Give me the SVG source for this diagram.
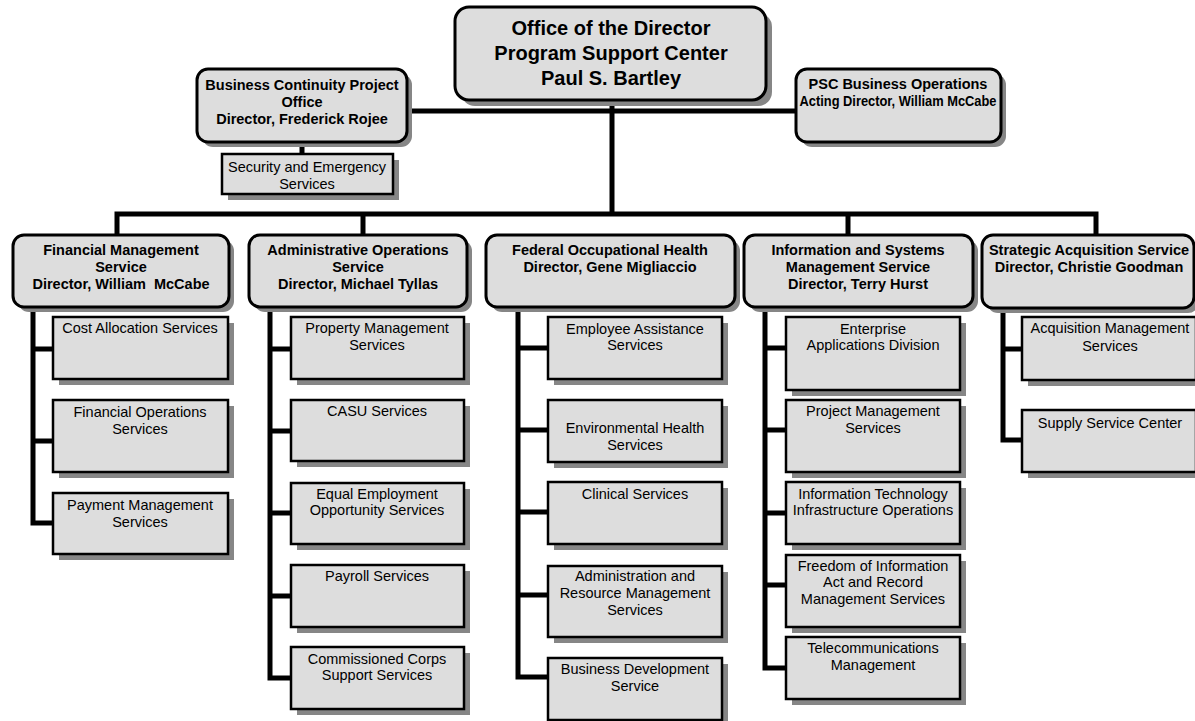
<svg xmlns="http://www.w3.org/2000/svg" width="1195" height="721" viewBox="0 0 1195 721">
<style>
text{font-family:"Liberation Sans",Arial,Helvetica,sans-serif;fill:#000;text-anchor:middle}
.b{font-weight:bold;font-size:14.5px}
.t{font-weight:bold;font-size:20px}
.r{font-size:14.5px}
.sh{fill:#868686}
.box{fill:#dddddd;stroke:#000;stroke-width:3}
.sub{fill:#dddddd;stroke:#000;stroke-width:2.5}
.ln{fill:none;stroke:#000;stroke-width:5;stroke-linejoin:miter;stroke-linecap:square}
</style>
<rect width="1195" height="721" fill="#fff"/>
<g id="connectors">
<path class="ln" d="M612 100V214M407 111H796M117 235V214H1096V235M363 214V235M848 214V235M302 142V154"/>
<path class="ln" d="M33 307V523H53M33 349H53M33 441H53"/>
<path class="ln" d="M270 307V678H291M270 349H291M270 431H291M270 513H291M270 596H291"/>
<path class="ln" d="M518 307V677H548M518 348H548M518 430H548M518 512H548M518 595H548"/>
<path class="ln" d="M765 307V668H786M765 348H786M765 430H786M765 513H786M765 585H786"/>
<path class="ln" d="M1003 308V440H1022M1003 349H1022"/>
</g>
<g id="office">
<rect class="sh" x="461" y="13" width="311" height="93" rx="14"/>
<rect class="box" x="455" y="7" width="311" height="93" rx="14"/>
<text class="t" x="611" y="35">Office of the Director</text>
<text class="t" x="611" y="60">Program Support Center</text>
<text class="t" x="611" y="85">Paul S. Bartley</text>
</g>
<g id="bcpo">
<rect class="sh" x="202" y="74" width="210" height="73" rx="11"/>
<rect class="box" x="197" y="69" width="210" height="73" rx="11"/>
<text class="b" x="302" y="90">Business Continuity Project</text>
<text class="b" x="302" y="107">Office</text>
<text class="b" x="302" y="124">Director, Frederick Rojee</text>
</g>
<g id="security">
<rect class="sh" x="228" y="160" width="171" height="40"/>
<rect class="sub" x="222" y="154" width="171" height="40"/>
<text class="r" x="307" y="172">Security and Emergency</text>
<text class="r" x="307" y="189">Services</text>
</g>
<g id="psc">
<rect class="sh" x="801" y="74" width="205" height="73" rx="11"/>
<rect class="box" x="796" y="69" width="205" height="73" rx="11"/>
<text class="b" x="898" y="89">PSC Business Operations</text>
<text class="b" x="898" y="106" textLength="197" lengthAdjust="spacingAndGlyphs">Acting Director, William McCabe</text>
</g>
<g id="fms">
<rect class="sh" x="18" y="240" width="216" height="72" rx="11"/>
<rect class="box" x="13" y="235" width="216" height="72" rx="11"/>
<text class="b" x="121" y="255">Financial Management</text>
<text class="b" x="121" y="272">Service</text>
<text class="b" x="121" y="289" xml:space="preserve">Director, William  McCabe</text>
</g>
<g id="aos">
<rect class="sh" x="254" y="240" width="218" height="72" rx="11"/>
<rect class="box" x="249" y="235" width="218" height="72" rx="11"/>
<text class="b" x="358" y="255">Administrative Operations</text>
<text class="b" x="358" y="272">Service</text>
<text class="b" x="358" y="289">Director, Michael Tyllas</text>
</g>
<g id="foh">
<rect class="sh" x="491" y="240" width="249" height="72" rx="11"/>
<rect class="box" x="486" y="235" width="249" height="72" rx="11"/>
<text class="b" x="610" y="255">Federal Occupational Health</text>
<text class="b" x="610" y="272">Director, Gene Migliaccio</text>
</g>
<g id="isms">
<rect class="sh" x="749" y="240" width="229" height="72" rx="11"/>
<rect class="box" x="744" y="235" width="229" height="72" rx="11"/>
<text class="b" x="858" y="255">Information and Systems</text>
<text class="b" x="858" y="272">Management Service</text>
<text class="b" x="858" y="289">Director, Terry Hurst</text>
</g>
<g id="sas">
<rect class="sh" x="987" y="240" width="212" height="73" rx="11"/>
<rect class="box" x="982" y="235" width="212" height="73" rx="11"/>
<text class="b" x="1089" y="255">Strategic Acquisition Service</text>
<text class="b" x="1089" y="272">Director, Christie Goodman</text>
</g>
<g id="fms-cost">
<rect class="sh" x="59" y="323" width="175" height="62"/>
<rect class="sub" x="53" y="317" width="175" height="62"/>
<text class="r" x="140" y="333">Cost Allocation Services</text>
</g>
<g id="fms-finops">
<rect class="sh" x="59" y="406" width="175" height="72"/>
<rect class="sub" x="53" y="400" width="175" height="72"/>
<text class="r" x="140" y="417">Financial Operations</text>
<text class="r" x="140" y="434">Services</text>
</g>
<g id="fms-payment">
<rect class="sh" x="59" y="499" width="175" height="61"/>
<rect class="sub" x="53" y="493" width="175" height="61"/>
<text class="r" x="140" y="510">Payment Management</text>
<text class="r" x="140" y="527">Services</text>
</g>
<g id="aos-property">
<rect class="sh" x="297" y="323" width="173" height="62"/>
<rect class="sub" x="291" y="317" width="173" height="62"/>
<text class="r" x="377" y="333">Property Management</text>
<text class="r" x="377" y="350">Services</text>
</g>
<g id="aos-casu">
<rect class="sh" x="297" y="406" width="173" height="61"/>
<rect class="sub" x="291" y="400" width="173" height="61"/>
<text class="r" x="377" y="416">CASU Services</text>
</g>
<g id="aos-eeo">
<rect class="sh" x="297" y="489" width="173" height="61"/>
<rect class="sub" x="291" y="483" width="173" height="61"/>
<text class="r" x="377" y="499">Equal Employment</text>
<text class="r" x="377" y="515">Opportunity Services</text>
</g>
<g id="aos-payroll">
<rect class="sh" x="297" y="571" width="173" height="62"/>
<rect class="sub" x="291" y="565" width="173" height="62"/>
<text class="r" x="377" y="581">Payroll Services</text>
</g>
<g id="aos-cc">
<rect class="sh" x="297" y="653" width="173" height="62"/>
<rect class="sub" x="291" y="647" width="173" height="62"/>
<text class="r" x="377" y="664">Commissioned Corps</text>
<text class="r" x="377" y="680">Support Services</text>
</g>
<g id="foh-eas">
<rect class="sh" x="554" y="323" width="174" height="62"/>
<rect class="sub" x="548" y="317" width="174" height="62"/>
<text class="r" x="635" y="334">Employee Assistance</text>
<text class="r" x="635" y="350">Services</text>
</g>
<g id="foh-env">
<rect class="sh" x="554" y="406" width="174" height="62"/>
<rect class="sub" x="548" y="400" width="174" height="62"/>
<text class="r" x="635" y="433">Environmental Health</text>
<text class="r" x="635" y="450">Services</text>
</g>
<g id="foh-clinical">
<rect class="sh" x="554" y="488" width="174" height="62"/>
<rect class="sub" x="548" y="482" width="174" height="62"/>
<text class="r" x="635" y="499">Clinical Services</text>
</g>
<g id="foh-arm">
<rect class="sh" x="554" y="572" width="174" height="71"/>
<rect class="sub" x="548" y="566" width="174" height="71"/>
<text class="r" x="635" y="581">Administration and</text>
<text class="r" x="635" y="598">Resource Management</text>
<text class="r" x="635" y="615">Services</text>
</g>
<g id="foh-bds">
<rect class="sh" x="554" y="664" width="174" height="62"/>
<rect class="sub" x="548" y="658" width="174" height="62"/>
<text class="r" x="635" y="674">Business Development</text>
<text class="r" x="635" y="691">Service</text>
</g>
<g id="isms-ead">
<rect class="sh" x="792" y="323" width="174" height="73"/>
<rect class="sub" x="786" y="317" width="174" height="73"/>
<text class="r" x="873" y="334">Enterprise</text>
<text class="r" x="873" y="350">Applications Division</text>
</g>
<g id="isms-pms">
<rect class="sh" x="792" y="406" width="174" height="72"/>
<rect class="sub" x="786" y="400" width="174" height="72"/>
<text class="r" x="873" y="416">Project Management</text>
<text class="r" x="873" y="433">Services</text>
</g>
<g id="isms-ito">
<rect class="sh" x="792" y="488" width="174" height="62"/>
<rect class="sub" x="786" y="482" width="174" height="62"/>
<text class="r" x="873" y="499">Information Technology</text>
<text class="r" x="873" y="515">Infrastructure Operations</text>
</g>
<g id="isms-foia">
<rect class="sh" x="792" y="561" width="174" height="72"/>
<rect class="sub" x="786" y="555" width="174" height="72"/>
<text class="r" x="873" y="571">Freedom of Information</text>
<text class="r" x="873" y="587">Act and Record</text>
<text class="r" x="873" y="604">Management Services</text>
</g>
<g id="isms-tel">
<rect class="sh" x="792" y="643" width="174" height="62"/>
<rect class="sub" x="786" y="637" width="174" height="62"/>
<text class="r" x="873" y="653">Telecommunications</text>
<text class="r" x="873" y="670">Management</text>
</g>
<g id="sas-ams">
<rect class="sh" x="1028" y="323" width="174" height="63"/>
<rect class="sub" x="1022" y="317" width="174" height="63"/>
<text class="r" x="1110" y="333">Acquisition Management</text>
<text class="r" x="1110" y="351">Services</text>
</g>
<g id="sas-ssc">
<rect class="sh" x="1028" y="416" width="174" height="62"/>
<rect class="sub" x="1022" y="410" width="174" height="62"/>
<text class="r" x="1110" y="428">Supply Service Center</text>
</g>
</svg>
